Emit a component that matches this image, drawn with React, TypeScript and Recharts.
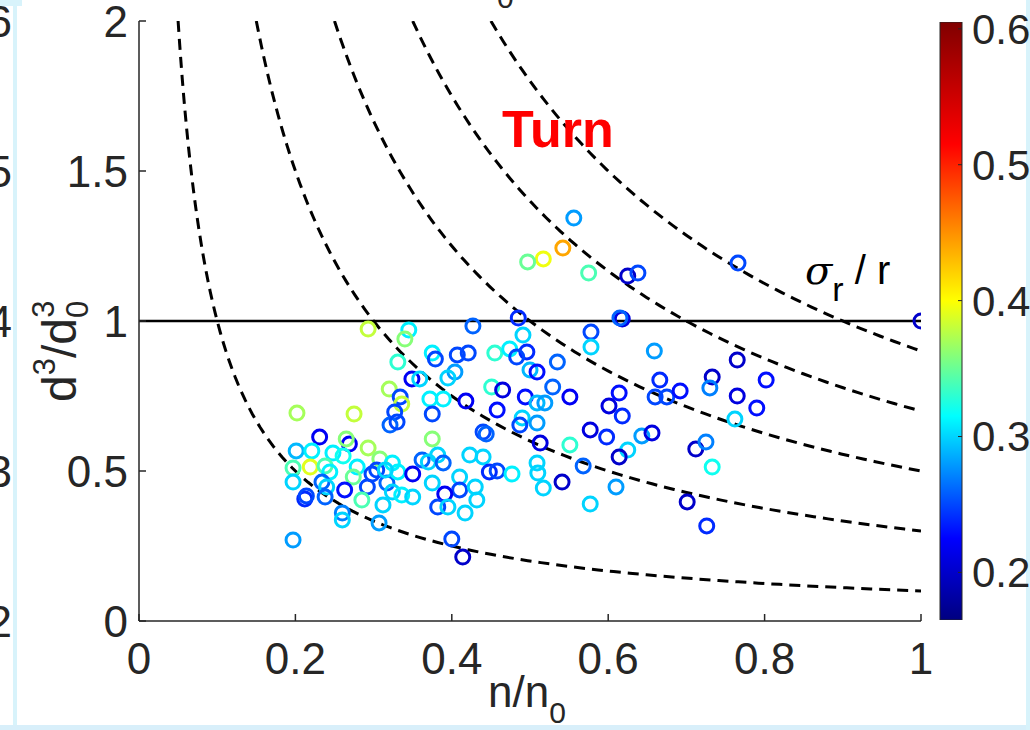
import React from "react";
import { ScatterChart, Scatter, XAxis, YAxis, ReferenceLine, BarChart, Bar } from "recharts";

// n/n0 of each bubble
const nRatio = [
  0.202, 0.275, 0.32, 0.231, 0.269, 0.265, 0.293, 0.201, 0.221, 0.248, 0.261, 0.308, 0.219, 0.238,
  0.197, 0.279, 0.244, 0.304, 0.298, 0.274, 0.197, 0.234, 0.24, 0.292, 0.263, 0.317, 0.212, 0.214,
  0.238, 0.285, 0.312, 0.26, 0.26, 0.307, 0.197, 0.293, 0.345, 0.34, 0.331, 0.349, 0.359, 0.334,
  0.336, 0.327, 0.485, 0.427, 0.491, 0.455, 0.474, 0.496, 0.483, 0.535, 0.375, 0.379, 0.407, 0.421,
  0.5, 0.509, 0.404, 0.395, 0.451, 0.465, 0.529, 0.551, 0.494, 0.372, 0.389, 0.418, 0.509, 0.519,
  0.458, 0.375, 0.321, 0.33, 0.49, 0.487, 0.509, 0.44, 0.444, 0.375, 0.513, 0.551, 0.423, 0.44,
  0.382, 0.362, 0.37, 0.389, 0.509, 0.324, 0.331, 0.35, 0.41, 0.448, 0.458, 0.477, 0.51, 0.315,
  0.541, 0.324, 0.336, 0.35, 0.375, 0.41, 0.391, 0.43, 0.432, 0.517, 0.382, 0.395, 0.417, 0.4,
  0.414, 0.618, 0.615, 0.578, 0.578, 0.659, 0.765, 0.733, 0.73, 0.802, 0.666, 0.614, 0.601, 0.618,
  0.66, 0.675, 0.692, 0.765, 0.79, 0.762, 0.577, 0.598, 0.643, 0.656, 0.625, 0.614, 0.712, 0.725,
  0.733, 0.568, 0.61, 0.577, 0.701, 0.726, 0.556, 0.542, 0.517, 0.497, 0.575, 0.625, 0.638, 0.766,
  1.0,
];

// d^3/d0^3 of each bubble
const dRatio = [
  0.693, 0.69, 0.773, 0.613, 0.59, 0.607, 0.577, 0.567, 0.567, 0.56, 0.55, 0.54, 0.513, 0.517,
  0.51, 0.513, 0.497, 0.503, 0.49, 0.48, 0.463, 0.463, 0.447, 0.447, 0.437, 0.46, 0.407, 0.417,
  0.413, 0.403, 0.387, 0.36, 0.337, 0.327, 0.27, 0.973, 0.97, 0.94, 0.863, 0.807, 0.807, 0.747,
  0.723, 0.697, 1.01, 0.983, 0.953, 0.893, 0.907, 0.897, 0.88, 0.863, 0.893, 0.873, 0.887, 0.893,
  0.837, 0.83, 0.83, 0.81, 0.78, 0.77, 0.78, 0.747, 0.747, 0.74, 0.74, 0.733, 0.727, 0.727,
  0.703, 0.69, 0.653, 0.663, 0.677, 0.653, 0.66, 0.63, 0.623, 0.607, 0.593, 0.587, 0.553, 0.547,
  0.553, 0.537, 0.53, 0.527, 0.527, 0.527, 0.497, 0.49, 0.48, 0.497, 0.5, 0.49, 0.493, 0.503,
  0.463, 0.43, 0.42, 0.413, 0.46, 0.437, 0.423, 0.447, 0.403, 0.443, 0.38, 0.38, 0.36, 0.273,
  0.213, 1.007, 1.01, 0.963, 0.913, 0.9, 0.87, 0.813, 0.777, 0.803, 0.803, 0.76, 0.717, 0.683,
  0.747, 0.747, 0.767, 0.75, 0.71, 0.673, 0.637, 0.613, 0.617, 0.627, 0.57, 0.547, 0.573, 0.597,
  0.513, 0.517, 0.447, 0.39, 0.397, 0.317, 1.343, 1.243, 1.207, 1.197, 1.16, 1.15, 1.16, 1.193,
  1.0,
];

// colour value (sigma_r / r) of each bubble
const sigmaRatio = [
  0.37, 0.38, 0.37, 0.22, 0.22, 0.36, 0.37, 0.29, 0.31, 0.31, 0.32, 0.36, 0.39, 0.34,
  0.34, 0.31, 0.31, 0.25, 0.25, 0.35, 0.3, 0.26, 0.3, 0.25, 0.23, 0.26, 0.24, 0.25,
  0.26, 0.34, 0.3, 0.27, 0.3, 0.28, 0.28, 0.38, 0.31, 0.36, 0.33, 0.22, 0.3, 0.25,
  0.38, 0.25, 0.24, 0.26, 0.3, 0.33, 0.31, 0.24, 0.25, 0.26, 0.31, 0.25, 0.25, 0.25,
  0.29, 0.23, 0.28, 0.3, 0.33, 0.21, 0.26, 0.22, 0.23, 0.31, 0.31, 0.22, 0.29, 0.28,
  0.23, 0.25, 0.26, 0.25, 0.3, 0.25, 0.28, 0.25, 0.26, 0.36, 0.21, 0.33, 0.3, 0.3,
  0.3, 0.26, 0.3, 0.26, 0.3, 0.31, 0.31, 0.22, 0.3, 0.24, 0.25, 0.31, 0.3, 0.3,
  0.2, 0.3, 0.31, 0.3, 0.3, 0.25, 0.22, 0.3, 0.3, 0.3, 0.25, 0.3, 0.3, 0.25,
  0.2, 0.21, 0.26, 0.25, 0.3, 0.28, 0.2, 0.2, 0.27, 0.23, 0.24, 0.23, 0.21, 0.24,
  0.25, 0.25, 0.23, 0.21, 0.23, 0.3, 0.21, 0.24, 0.28, 0.21, 0.3, 0.2, 0.2, 0.27,
  0.32, 0.26, 0.28, 0.3, 0.2, 0.24, 0.28, 0.44, 0.395, 0.35, 0.34, 0.2, 0.25, 0.25,
  0.2,
];

const curveLevels = [0.1, 0.3, 0.5, 0.7, 0.9];
const xTicks = [0, 0.2, 0.4, 0.6, 0.8, 1];
const yTicks = [0, 0.5, 1, 1.5, 2];
const cbTicks = [0.2, 0.3, 0.4, 0.5, 0.6];
const cbRange = [0.165, 0.605];
const neighbourTicks = ["6", "5", "4", "3", "2"];

// colormap stops (value, rgb)
const cmap: [number, number[]][] = [
  [0.165, [0, 0, 128]],
  [0.225, [0, 0, 255]],
  [0.315, [0, 255, 255]],
  [0.4, [255, 255, 0]],
  [0.515, [255, 0, 0]],
  [0.605, [128, 0, 0]],
];

function colorOf(v: number) {
  let c = cmap[cmap.length - 1][1];
  if (v <= cmap[0][0]) c = cmap[0][1];
  else {
    for (let i = 1; i < cmap.length; i++) {
      if (v <= cmap[i][0]) {
        const t = (v - cmap[i - 1][0]) / (cmap[i][0] - cmap[i - 1][0]);
        const a = cmap[i - 1][1];
        const b = cmap[i][1];
        c = a.map((u, j) => Math.round(u + (b[j] - u) * t));
        break;
      }
    }
  }
  return `rgb(${c[0]},${c[1]},${c[2]})`;
}

const points = nRatio.map((x, i) => ({ x, y: dRatio[i], c: sigmaRatio[i] }));

// isolines d^3/d0^3 = k / (n/n0), starting where they leave the top of the box
const curves = curveLevels.map((k) => {
  const x0 = k / 2;
  const pts = [];
  for (let i = 0; i <= 90; i++) {
    const x = x0 * Math.pow(1 / x0, i / 90);
    pts.push({ x, y: k / x });
  }
  return pts;
});

const FONT = "'Liberation Sans', Arial, Helvetica, sans-serif";
const INK = "#262626";

const Ring = (props: any) => {
  const { cx, cy, payload } = props;
  if (cx == null || cy == null) return <g />;
  return <circle cx={cx} cy={cy} r={7} fill="none" stroke={colorOf(payload.c)} strokeWidth={3} />;
};

const NoDot = () => <g />;

export default function App() {
  const tickStyle = { fill: INK, fontSize: 44, fontFamily: FONT };
  return (
    <div style={{ position: "absolute", left: 0, top: 0, width: 1030, height: 730, background: "#fff", overflow: "hidden" }}>
      {/* edges of the neighbouring panels in the screenshot */}
      <div style={{ position: "absolute", left: 13, top: 6, width: 4, height: 724, background: "#d8f3fb" }} />
      <div style={{ position: "absolute", left: 0, top: 0, width: 22, height: 6, background: "#d8f3fb" }} />
      <div style={{ position: "absolute", left: 0, top: 725, width: 1030, height: 5, background: "#d8effa" }} />
      <div style={{ position: "absolute", left: 1026, top: 0, width: 4, height: 730, background: "#d8f3fb" }} />

      <div style={{ position: "absolute", left: 0, top: 0 }}>
        <ScatterChart width={1030} height={730} margin={{ top: 21, right: 109, bottom: 0, left: 0 }}>
          <XAxis
            type="number"
            dataKey="x"
            domain={[0, 1]}
            ticks={xTicks}
            interval={0}
            allowDataOverflow
            height={109}
            tickSize={-7}
            tickMargin={29}
            axisLine={{ stroke: INK, strokeWidth: 1.5 }}
            tickLine={{ stroke: INK, strokeWidth: 1.5 }}
            tick={tickStyle}
          />
          <YAxis
            type="number"
            dataKey="y"
            domain={[0, 2]}
            ticks={yTicks}
            interval={0}
            allowDataOverflow
            width={139}
            tickSize={-7}
            tickMargin={18}
            axisLine={{ stroke: INK, strokeWidth: 1.5 }}
            tickLine={{ stroke: INK, strokeWidth: 1.5 }}
            tick={tickStyle}
          />
          <XAxis
            xAxisId="top"
            orientation="top"
            type="number"
            domain={[0, 1]}
            ticks={xTicks}
            interval={0}
            height={0}
            tickSize={-7}
            tick={false}
            axisLine={{ stroke: INK, strokeWidth: 1.5 }}
            tickLine={{ stroke: INK, strokeWidth: 1.5 }}
          />
          <YAxis
            yAxisId="right"
            orientation="right"
            type="number"
            domain={[0, 2]}
            ticks={yTicks}
            interval={0}
            width={0}
            tickSize={-7}
            tick={false}
            axisLine={{ stroke: INK, strokeWidth: 1.5 }}
            tickLine={{ stroke: INK, strokeWidth: 1.5 }}
          />
          {curves.map((pts, i) => (
            <Scatter
              key={i}
              data={pts}
              line={{ stroke: "#000", strokeWidth: 3, strokeDasharray: "11 7" }}
              lineType="joint"
              shape={NoDot}
              isAnimationActive={false}
            />
          ))}
          <ReferenceLine y={1} stroke="#000" strokeWidth={2.5} />
          <Scatter data={points} shape={Ring} isAnimationActive={false} />
        </ScatterChart>
      </div>

      {/* colour bar */}
      <div style={{ position: "absolute", left: 930, top: 0 }}>
        <BarChart
          width={100}
          height={730}
          data={[{ k: "c", span: cbRange }]}
          margin={{ top: 22, right: 8, bottom: 110, left: 10 }}
          barCategoryGap={0}
        >
          <defs>
            <linearGradient id="jetBar" x1="0" y1="1" x2="0" y2="0">
              {cmap.map(([v, c]) => (
                <stop
                  key={v}
                  offset={(v - cbRange[0]) / (cbRange[1] - cbRange[0])}
                  stopColor={`rgb(${c[0]},${c[1]},${c[2]})`}
                />
              ))}
            </linearGradient>
          </defs>
          <XAxis dataKey="k" hide />
          <YAxis
            orientation="right"
            type="number"
            domain={cbRange}
            ticks={cbTicks}
            interval={0}
            allowDataOverflow
            width={60}
            tickSize={-4}
            tickMargin={14}
            axisLine={false}
            tickLine={{ stroke: INK }}
            tick={{ fill: INK, fontSize: 42, fontFamily: FONT }}
          />
          <Bar dataKey="span" fill="url(#jetBar)" stroke={INK} strokeWidth={1} isAnimationActive={false} />
        </BarChart>
      </div>

      {/* text annotations */}
      <svg width={1030} height={730} style={{ position: "absolute", left: 0, top: 0, pointerEvents: "none" }}>
        {neighbourTicks.map((t, i) => (
          <text key={t} x={12} y={21 + i * 150} dy="0.36em" textAnchor="end" fontSize={44} fontFamily={FONT} fill={INK}>
            {t}
          </text>
        ))}
        <text x={497} y={8} fontSize={30} fontFamily={FONT} fill={INK}>0</text>
        <text x={502} y={147} fontSize={52} fontWeight="bold" fontFamily={FONT} fill="#ff0000">Turn</text>
        <text x={805} y={284} fontSize={40} fontFamily={FONT} fill="#000">
          <tspan fontStyle="italic" fontFamily="'DejaVu Serif', serif">σ</tspan>
          <tspan fontSize={34} dy={17}>r</tspan>
          <tspan dy={-17}> / r</tspan>
        </text>
        <text x={488} y={707} fontSize={44} fontFamily={FONT} fill={INK}>
          n/n<tspan fontSize={30} dy={16}>0</tspan>
        </text>
        <text transform="translate(76,402) rotate(-90)" fontSize={48} fontFamily={FONT} fill={INK}>
          d<tspan fontSize={31} dy={-21}>3</tspan>
          <tspan dy={21}>/d</tspan>
          <tspan fontSize={31} dy={12}>0</tspan>
          <tspan fontSize={31} dx={-17} dy={-34}>3</tspan>
        </text>
      </svg>
    </div>
  );
}
